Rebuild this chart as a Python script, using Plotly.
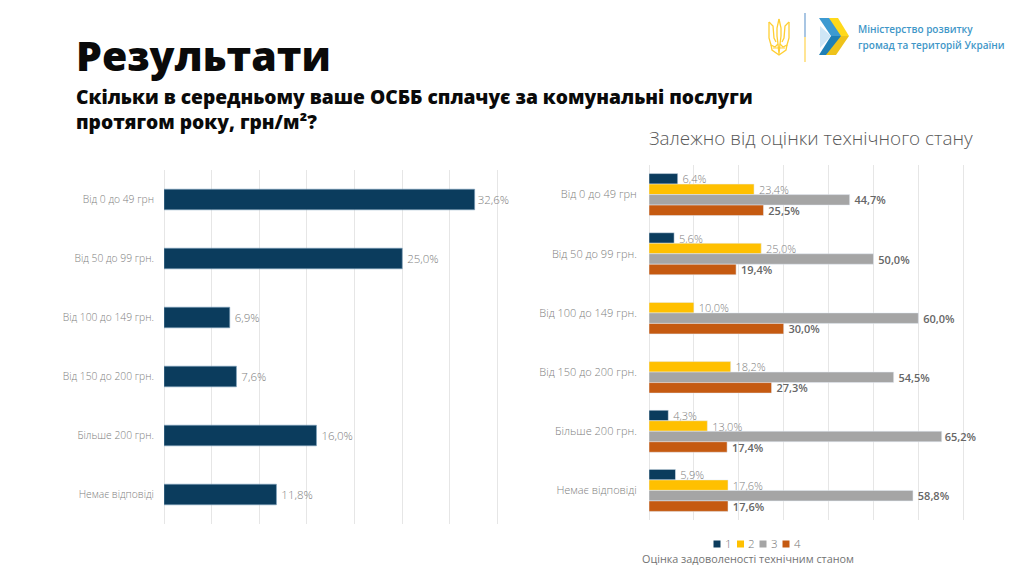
import plotly.graph_objects as go

categories = ["Від 0 до 49 грн", "Від 50 до 99 грн.", "Від 100 до 149 грн.",
              "Від 150 до 200 грн.", "Більше 200 грн.", "Немає відповіді"]
overall = [32.6, 25.0, 6.9, 7.6, 16.0, 11.8]
score_1 = [6.4, 5.6, None, None, 4.3, 5.9]
score_2 = [23.4, 25.0, 10.0, 18.2, 13.0, 17.6]
score_3 = [44.7, 50.0, 60.0, 54.5, 65.2, 58.8]
score_4 = [25.5, 19.4, 30.0, 27.3, 17.4, 17.6]
series_names = ["1", "2", "3", "4"]
series_values = [score_1, score_2, score_3, score_4]
series_colors = ["#0b3c5d", "#ffc000", "#a5a5a5", "#c55a11"]
label_colors = ["#808080", "#808080", "#666666", "#666666"]
label_weights = [300, 300, 600, 600]

W, H = 1024, 576
FONT = "Open Sans"
GRID = "#e6e6e6"

def px(x):
    return x / W

def py(y):
    return 1 - y / H

def fmt(v, tight_from=1000):
    if v is None:
        return ""
    p = "" if v >= tight_from else "\u2009"
    return p + f"{v:.1f}%".replace(".", ",")

fig = go.Figure()

fig.add_trace(go.Bar(
    y=categories, x=overall, orientation="h", xaxis="x", yaxis="y", width=0.35,
    marker=dict(color="#0b3c5d", line=dict(color="#7fa3bd", width=0.6)), showlegend=False,
    text=[fmt(v, 30) for v in overall], textposition="outside", cliponaxis=False,
    constraintext="none",
    textfont=dict(family=FONT, size=11.5, color="#808080", weight=300), hoverinfo="skip",
))

for name, vals, col, lab, wt in zip(series_names, series_values, series_colors, label_colors, label_weights):
    fig.add_trace(go.Bar(
        y=categories, x=vals, name=name, orientation="h", xaxis="x2", yaxis="y2",
        marker=dict(color=col), showlegend=False,
        text=[fmt(v, 65) for v in vals], textposition="outside", cliponaxis=False,
        constraintext="none",
        textfont=dict(family=FONT, size=11, color=lab, weight=wt),
        hoverinfo="skip",
    ))

axis_common = dict(showgrid=True, gridcolor=GRID, gridwidth=1, zeroline=True, zerolinecolor=GRID,
                   zerolinewidth=1, showticklabels=False, ticks="", showline=False, fixedrange=True)
ycommon = dict(type="category", autorange="reversed", showgrid=False, zeroline=False,
               showline=False, ticks="outside", tickcolor="rgba(0,0,0,0)", fixedrange=True)

def poly(points, color):
    path = "M " + " L ".join(f"{px(x):.5f},{py(y):.5f}" for x, y in points) + " Z"
    return dict(type="path", xref="paper", yref="paper", path=path,
                fillcolor=color, line=dict(width=0))

def stroke(points, color, width=1.3):
    path = "M " + " L ".join(f"{px(x):.5f},{py(y):.5f}" for x, y in points)
    return dict(type="path", xref="paper", yref="paper", path=path,
                line=dict(color=color, width=width))

shapes = [
    dict(type="line", xref="paper", yref="paper", x0=px(805), x1=px(805), y0=py(13), y1=py(37),
         line=dict(color="#6f9fd0", width=1.2)),
    dict(type="line", xref="paper", yref="paper", x0=px(805), x1=px(805), y0=py(37), y1=py(62),
         line=dict(color="#ffd34d", width=1.2)),
]
# chevrons of the logo
shapes += [
    poly([(829, 18), (838, 18), (849, 36), (836, 36)], "#ffd91a"),
    poly([(836, 36), (849, 36), (836, 55), (824, 55)], "#eec21a"),
    poly([(819, 18), (829, 18), (841, 36), (831, 36)], "#3d9ad1"),
    poly([(831, 36), (841, 36), (826, 55), (819, 55)], "#1f7fb5"),
    poly([(820, 26), (831, 36), (820, 48)], "#cfe6f6"),
]
# trident of the logo
T = "#ffcf33"
shapes += [
    stroke([(779, 19), (777, 28), (777, 36), (778, 44), (779, 54), (780, 44), (781, 36), (781, 28), (779, 19)], T),
    stroke([(769, 22), (769, 38), (771, 45), (775, 47), (778, 44)], T),
    stroke([(789, 22), (789, 38), (787, 45), (783, 47), (780, 44)], T),
    stroke([(769, 22), (773, 26), (774, 38), (776, 42)], T),
    stroke([(789, 22), (785, 26), (784, 38), (782, 42)], T),
    stroke([(771, 45), (772, 50), (779, 55), (786, 50), (787, 45)], T),
    stroke([(773, 48), (785, 48)], T, 1),
]

# compact legend under the right chart
legend_x = [713.5, 737, 759.5, 782.5]
annotations = []
for x0, col, name in zip(legend_x, series_colors, series_names):
    shapes.append(dict(type="rect", xref="paper", yref="paper", x0=px(x0), x1=px(x0 + 7),
                       y0=py(547.5), y1=py(540.5), fillcolor=col, line=dict(width=0)))
    annotations.append(dict(text=name, x=px(x0 + 10), y=py(543),
                            font=dict(size=11.5, color="#737373", weight=300)))

annotations += [
    dict(text="Результати", x=px(75), y=py(55), font=dict(size=41, color="#0a0a0a", weight=800)),
    dict(text="Скільки в середньому ваше ОСББ сплачує за комунальні послуги<br>протягом року, грн/м²?",
         x=px(75), y=py(109), align="left", font=dict(size=19.2, color="#0a0a0a", weight=800)),
    dict(text="Залежно від оцінки технічного стану", x=px(648), y=py(138),
         font=dict(size=18.9, color="#595959", weight=300)),
    dict(text="Оцінка задоволеності технічним станом", x=px(641), y=py(558.5),
         font=dict(size=10.8, color="#737373", weight=400)),
    dict(text="Міністерство розвитку", x=px(857), y=py(29),
         font=dict(size=10, color="#3f97c8", weight=600)),
    dict(text="громад та територій України", x=px(857), y=py(45),
         font=dict(size=10, color="#3f97c8", weight=600)),
]
for a in annotations:
    a.update(xref="paper", yref="paper", xanchor="left", yanchor="middle", showarrow=False,
             borderpad=0)
    a["font"]["family"] = FONT

fig.update_layout(
    width=W, height=H, margin=dict(l=0, r=0, t=0, b=0),
    paper_bgcolor="white", plot_bgcolor="white",
    barmode="group",
    bargap=0.29, bargroupgap=0,
    showlegend=False,
    xaxis=dict(domain=[px(164), px(500.4)], range=[0, 35.3], tickvals=[0, 5, 10, 15, 20, 25, 30, 35],
               anchor="y", **axis_common),
    yaxis=dict(domain=[py(524), py(170)], anchor="x", ticklen=7,
               tickfont=dict(family=FONT, size=10.3, color="#808080", weight=300), **ycommon),
    xaxis2=dict(domain=[px(649), px(965.5)], range=[0, 70.5], tickvals=[0, 10, 20, 30, 40, 50, 60, 70],
                anchor="y2", **axis_common),
    yaxis2=dict(domain=[py(520), py(165)], anchor="x2", ticklen=9,
                tickfont=dict(family=FONT, size=11, color="#808080", weight=300), **ycommon),
    shapes=shapes, annotations=annotations,
)

fig.write_html("out.html", post_script="document.body.style.margin='0';",
               config=dict(displayModeBar=False))
